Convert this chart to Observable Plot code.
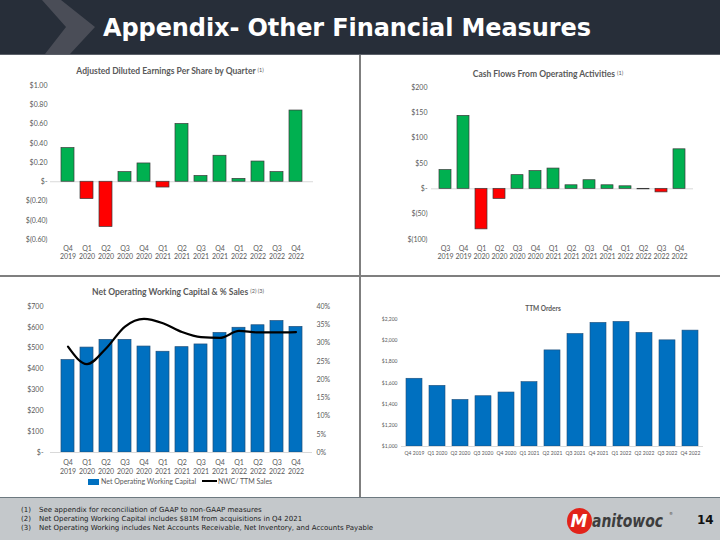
<!DOCTYPE html>
<html><head><meta charset="utf-8">
<script src="https://cdn.jsdelivr.net/npm/d3@7"></script>
<script src="https://cdn.jsdelivr.net/npm/@observablehq/plot@0.6"></script>
<style>
body{margin:0;background:#fff;}
#slide{position:relative;width:720px;height:540px;background:#fff;overflow:hidden;font-family:Lato,"Open Sans",sans-serif;}
.abs{position:absolute;}
.ctitle{position:absolute;text-align:center;font-weight:bold;color:#595959;white-space:nowrap;}
.ctitle sup{font-size:0.65em;vertical-align:0.45em;font-weight:normal;}
#header{position:absolute;left:0;top:0;width:720px;height:54px;background:#272e39;border-bottom:1px solid #5b6069;}
#htitle{position:absolute;left:103px;top:14px;color:#fff;font-family:"DejaVu Sans",sans-serif;font-weight:bold;font-size:24px;white-space:nowrap;letter-spacing:-0.1px;}
#footer{position:absolute;left:0;top:497px;width:720px;height:43px;background:#c4c8cb;border-top:1.5px solid #6d7980;}
.fn{position:absolute;left:21px;font-family:"DejaVu Sans",sans-serif;font-size:7px;color:#222;white-space:nowrap;}
.fn span{display:inline-block;width:18px;}
.legend{position:absolute;font-size:7px;color:#595959;white-space:nowrap;font-family:Lato,sans-serif;}
</style></head><body>
<div id="slide">
  <div id="header">
    <svg class="abs" style="left:0;top:0" width="120" height="54"><polygon points="42,0 61,0 95,27 70,54 45,54 66,27" fill="#4a4d57"/></svg>
    <div id="htitle">Appendix- Other Financial Measures</div>
  </div>
  <div class="abs" style="left:359px;top:55px;width:1.5px;height:442px;background:#7f7f7f"></div>
  <div class="abs" style="left:0;top:275px;width:720px;height:1.5px;background:#7f7f7f"></div>

  <div class="ctitle" style="left:20px;width:300px;top:66px;font-size:8.5px">Adjusted Diluted Earnings Per Share by Quarter <sup>(1)</sup></div>
  <div class="ctitle" style="left:398px;width:300px;top:69px;font-size:8.5px">Cash Flows From Operating Activities <sup>(1)</sup></div>
  <div class="ctitle" style="left:28px;width:300px;top:287px;font-size:8.5px">Net Operating Working Capital &amp; % Sales <sup>(2) (3)</sup></div>
  <div class="ctitle" style="left:493px;width:100px;top:305px;font-size:6.5px">TTM Orders</div>

  <div id="c1" class="abs" style="left:0;top:80px"></div>
  <div id="c2" class="abs" style="left:360px;top:80px"></div>
  <div id="c3" class="abs" style="left:0;top:298px"></div>
  <div id="c4" class="abs" style="left:360px;top:312px"></div>

  <div class="legend" style="left:88px;top:477px"><span style="display:inline-block;width:11px;height:6px;background:#0070c0;vertical-align:-0.5px;margin-right:2px"></span>Net Operating Working Capital</div>
  <div class="legend" style="left:202px;top:477px"><span style="display:inline-block;width:15px;height:2px;background:#000;vertical-align:2px;margin-right:1px"></span>NWC/ TTM Sales</div>

  <div id="footer">
    <div class="fn" style="top:8px"><span>(1)</span>See appendix for reconciliation of GAAP to non-GAAP measures</div>
    <div class="fn" style="top:17px"><span>(2)</span>Net Operating Working Capital includes $81M from acquisitions in Q4 2021</div>
    <div class="fn" style="top:26px"><span>(3)</span>Net Operating Working includes Net Accounts Receivable, Net Inventory, and Accounts Payable</div>
    <svg class="abs" style="left:560px;top:8px" width="120" height="30">
      <ellipse cx="19.5" cy="15" rx="12.5" ry="13" fill="#e2231a"/>
      <text x="19" y="21" text-anchor="middle" font-family="DejaVu Sans" font-weight="bold" font-style="italic" font-size="17" fill="#fff">M</text>
      <text x="32" y="21" font-family="DejaVu Sans" font-weight="bold" font-style="italic" font-size="17" fill="#3d3d3d" textLength="71" lengthAdjust="spacingAndGlyphs">anitowoc</text>
      <text x="109" y="9" font-family="DejaVu Sans" font-size="4" fill="#3d3d3d">®</text>
    </svg>
    <div class="abs" style="left:697px;top:15px;font-family:'DejaVu Sans';font-weight:bold;font-size:12px;color:#111">14</div>
  </div>
</div>
<script>
// ---- Data ----
const epsQuarters = ["Q4 2019","Q1 2020","Q2 2020","Q3 2020","Q4 2020","Q1 2021","Q2 2021","Q3 2021","Q4 2021","Q1 2022","Q2 2022","Q3 2022","Q4 2022"];
const epsValues = [0.35,-0.18,-0.47,0.10,0.19,-0.06,0.60,0.06,0.27,0.03,0.21,0.10,0.74];
const epsTicks = [-0.6,-0.4,-0.2,0,0.2,0.4,0.6,0.8,1.0];

const cfQuarters = ["Q3 2019","Q4 2019","Q1 2020","Q2 2020","Q3 2020","Q4 2020","Q1 2021","Q2 2021","Q3 2021","Q4 2021","Q1 2022","Q2 2022","Q3 2022","Q4 2022"];
const cfValues = [37,144,-80,-20,27,35,40,7,17,7,5,-1,-7,78];
const cfTicks = [-100,-50,0,50,100,150,200];

const nwcQuarters = epsQuarters;
const nwcValues = [443,503,540,540,508,483,505,518,573,598,610,630,602];
const nwcPct = [29.0,24.2,28.5,34.5,36.6,35.4,33.0,31.6,31.4,33.3,32.9,32.9,33.0];
const nwcTicks = [0,100,200,300,400,500,600,700];
const pctTicks = [0,5,10,15,20,25,30,35,40];

const ttmQuarters = epsQuarters;
const ttmValues = [1640,1573,1440,1475,1510,1608,1908,2063,2168,2177,2073,2003,2095];
const ttmTicks = [1000,1200,1400,1600,1800,2000,2200];

// ---- Helpers ----
const GREEN = "#00b050", RED = "#ff0000", BLUE = "#0070c0";
const baseStyle = {fontFamily: "Lato, sans-serif", fontSize: "7px", color: "#595959", background: "transparent", overflow: "visible"};
const twoLine = d => d.replace(" ", "\n");

// ---- Chart 1: EPS ----
const epsData = epsQuarters.map((q, i) => ({q, v: epsValues[i]}));
const fmtEps = d => d === 0 ? "$-" : d < 0 ? `$(${(-d).toFixed(2)})` : `$${d.toFixed(2)}`;
document.getElementById("c1").append(Plot.plot({
  width: 360, height: 190,
  marginLeft: 50, marginRight: 47, marginTop: 5, marginBottom: 31,
  x: {domain: epsQuarters, padding: 0.32, label: null},
  y: {domain: [-0.6, 1.0], label: null},
  style: baseStyle,
  marks: [
    Plot.ruleY([0], {stroke: "#d9d9d9", strokeWidth: 1}),
    Plot.barY(epsData.filter(d => d.v >= 0), {x: "q", y: "v", fill: GREEN, stroke: "#3a3a3a", strokeWidth: 0.7}),
    Plot.barY(epsData.filter(d => d.v < 0), {x: "q", y: "v", fill: RED, stroke: "#3a3a3a", strokeWidth: 0.7}),
    Plot.axisY(epsTicks, {tickSize: 0, tickPadding: 3, tickFormat: fmtEps, label: null}),
    Plot.axisX({tickSize: 0, tickPadding: 5, tickFormat: twoLine, lineHeight: 1.25, label: null})
  ]
}));

// ---- Chart 2: Cash flows ----
const cfData = cfQuarters.map((q, i) => ({q, v: cfValues[i]}));
const fmtCf = d => d === 0 ? "$-" : d < 0 ? `$(${-d})` : `$${d}`;
document.getElementById("c2").append(Plot.plot({
  width: 360, height: 190,
  marginLeft: 71, marginRight: 27, marginTop: 7, marginBottom: 31,
  x: {domain: cfQuarters, padding: 0.31, label: null},
  y: {domain: [-100, 200], label: null},
  style: baseStyle,
  marks: [
    Plot.ruleY([0], {stroke: "#d9d9d9", strokeWidth: 1}),
    Plot.barY(cfData.filter(d => d.v >= 0), {x: "q", y: "v", fill: GREEN, stroke: "#3a3a3a", strokeWidth: 0.7}),
    Plot.barY(cfData.filter(d => d.v < 0), {x: "q", y: "v", fill: RED, stroke: "#3a3a3a", strokeWidth: 0.7}),
    Plot.axisY(cfTicks, {tickSize: 0, tickPadding: 4, tickFormat: fmtCf, label: null}),
    Plot.axisX({tickSize: 0, tickPadding: 5, tickFormat: twoLine, lineHeight: 1.25, label: null})
  ]
}));

// ---- Chart 3: NWC ----
const pctFactor = 700 / 40;
const nwcData = nwcQuarters.map((q, i) => ({q, v: nwcValues[i], pct: nwcPct[i]}));
document.getElementById("c3").append(Plot.plot({
  width: 360, height: 178,
  marginLeft: 50, marginRight: 48, marginTop: 8, marginBottom: 24,
  x: {domain: nwcQuarters, padding: 0.32, label: null},
  y: {domain: [0, 700], label: null},
  style: baseStyle,
  marks: [
    Plot.barY(nwcData, {x: "q", y: "v", fill: BLUE, stroke: "#1f4e79", strokeWidth: 0.7}),
    Plot.line(nwcData, {x: "q", y: d => d.pct * pctFactor, stroke: "#000", strokeWidth: 2.2, curve: "monotone-x"}),
    Plot.ruleY([0], {stroke: "#d9d9d9", strokeWidth: 1}),
    Plot.axisY(nwcTicks, {anchor: "left", tickSize: 0, tickPadding: 7, tickFormat: d => d === 0 ? "$-" : `$${d}`, label: null}),
    Plot.axisY(pctTicks.map(p => p * pctFactor), {anchor: "right", tickSize: 0, tickPadding: 4, tickFormat: d => `${Math.round(d / pctFactor)}%`, label: null}),
    Plot.axisX({tickSize: 0, tickPadding: 7, tickFormat: twoLine, lineHeight: 1.2, label: null})
  ]
}));

// ---- Chart 4: TTM Orders ----
const ttmData = ttmQuarters.map((q, i) => ({q, v: ttmValues[i]}));
document.getElementById("c4").append(Plot.plot({
  width: 360, height: 150,
  marginLeft: 41, marginRight: 17, marginTop: 7, marginBottom: 16,
  x: {domain: ttmQuarters, paddingInner: 0.32, paddingOuter: 0.1, label: null},
  y: {domain: [1000, 2200], label: null},
  style: {...baseStyle, fontSize: "5px"},
  marks: [
    Plot.barY(ttmData, {x: "q", y1: 1000, y2: "v", fill: BLUE, stroke: "#1f4e79", strokeWidth: 0.6}),
    Plot.ruleY([1000], {stroke: "#d9d9d9", strokeWidth: 1}),
    Plot.axisY(ttmTicks, {tickSize: 0, tickPadding: 4, tickFormat: d => "$" + d3.format(",")(d), label: null}),
    Plot.axisX({tickSize: 0, tickPadding: 5, label: null})
  ]
}));
</script>
</body></html>
